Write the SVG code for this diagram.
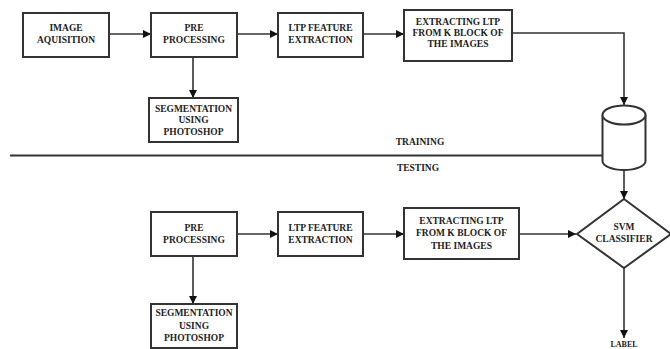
<svg xmlns="http://www.w3.org/2000/svg" width="670" height="349" viewBox="0 0 670 349">
<style>
.box{fill:#fff;stroke:#333;stroke-width:2}
.t{font-family:"Liberation Serif","Times New Roman",serif;font-weight:bold;font-size:9.5px;fill:#222;text-anchor:middle}
.c{fill:none;stroke:#333;stroke-width:1.6}
</style>
<defs>
<marker id="ah" markerUnits="userSpaceOnUse" markerWidth="8" markerHeight="8" refX="8" refY="4" orient="auto">
<path d="M0,0 L8,4 L0,8 z" fill="#111"/>
</marker>
</defs>
<rect width="670" height="349" fill="#fff"/>
<g id="connectors">
<line class="c" x1="109" y1="34" x2="151" y2="34" marker-end="url(#ah)"/>
<line class="c" x1="237" y1="34" x2="278" y2="34" marker-end="url(#ah)"/>
<line class="c" x1="363" y1="34" x2="404" y2="34" marker-end="url(#ah)"/>
<polyline class="c" points="512,33 624,33 624,105" marker-end="url(#ah)"/>
<line class="c" x1="193" y1="57" x2="193" y2="98" marker-end="url(#ah)"/>
<line class="c" x1="10" y1="155.5" x2="603" y2="155.5" style="stroke-width:2"/>
<line class="c" x1="624" y1="170" x2="624" y2="199" marker-end="url(#ah)"/>
<line class="c" x1="237" y1="234" x2="278" y2="234" marker-end="url(#ah)"/>
<line class="c" x1="363" y1="234" x2="404" y2="234" marker-end="url(#ah)"/>
<line class="c" x1="519" y1="234" x2="576" y2="234" marker-end="url(#ah)"/>
<line class="c" x1="193" y1="256" x2="193" y2="304" marker-end="url(#ah)"/>
<line class="c" x1="624" y1="268" x2="624" y2="338" marker-end="url(#ah)"/>
</g>
<g id="image-aquisition">
<rect class="box" x="23" y="13" width="86" height="44"/>
<text class="t" x="66" y="31">IMAGE</text>
<text class="t" x="66" y="43">AQUISITION</text>
</g>
<g id="pre-processing-1">
<rect class="box" x="151" y="13" width="86" height="44"/>
<text class="t" x="194" y="31">PRE</text>
<text class="t" x="194" y="43">PROCESSING</text>
</g>
<g id="ltp-feature-1">
<rect class="box" x="278" y="13" width="85" height="44"/>
<text class="t" x="320.5" y="31">LTP FEATURE</text>
<text class="t" x="320.5" y="43">EXTRACTION</text>
</g>
<g id="extracting-1">
<rect class="box" x="404" y="10" width="108" height="51"/>
<text class="t" x="458" y="24.5">EXTRACTING LTP</text>
<text class="t" x="458" y="35.5">FROM K BLOCK OF</text>
<text class="t" x="458" y="46.5">THE IMAGES</text>
</g>
<g id="segmentation-1">
<rect class="box" x="149" y="98" width="89" height="44"/>
<text class="t" x="193.5" y="111.5">SEGMENTATION</text>
<text class="t" x="193.5" y="123">USING</text>
<text class="t" x="193.5" y="134.5">PHOTOSHOP</text>
</g>
<g id="database">
<path d="M602.5,115 L602.5,161 A21.5,9 0 0 0 645.5,161 L645.5,115" fill="#fff" stroke="#333" stroke-width="2"/>
<ellipse cx="624" cy="115" rx="21.5" ry="9.5" fill="#fff" stroke="#333" stroke-width="2"/>
</g>
<g id="labels">
<text class="t" x="420" y="145">TRAINING</text>
<text class="t" x="418" y="171">TESTING</text>
</g>
<g id="pre-processing-2">
<rect class="box" x="151" y="212" width="86" height="44"/>
<text class="t" x="194" y="231">PRE</text>
<text class="t" x="194" y="243">PROCESSING</text>
</g>
<g id="ltp-feature-2">
<rect class="box" x="278" y="212" width="85" height="44"/>
<text class="t" x="320.5" y="231">LTP FEATURE</text>
<text class="t" x="320.5" y="243">EXTRACTION</text>
</g>
<g id="extracting-2">
<rect class="box" x="404" y="208" width="115" height="51"/>
<text class="t" x="461.5" y="223.5">EXTRACTING LTP</text>
<text class="t" x="461.5" y="236">FROM K BLOCK OF</text>
<text class="t" x="461.5" y="248.5">THE IMAGES</text>
</g>
<g id="segmentation-2">
<rect class="box" x="151" y="304" width="86" height="44"/>
<text class="t" x="194" y="316">SEGMENTATION</text>
<text class="t" x="194" y="328.5">USING</text>
<text class="t" x="194" y="341">PHOTOSHOP</text>
</g>
<g id="svm-classifier">
<polygon points="624,199 671,234 624,268 577,234" fill="#fff" stroke="#333" stroke-width="2"/>
<text class="t" x="624" y="230">SVM</text>
<text class="t" x="624" y="242">CLASSIFIER</text>
</g>
<g id="label">
<text class="t" x="624" y="346.5" style="font-size:8px">LABEL</text>
</g>
</svg>
